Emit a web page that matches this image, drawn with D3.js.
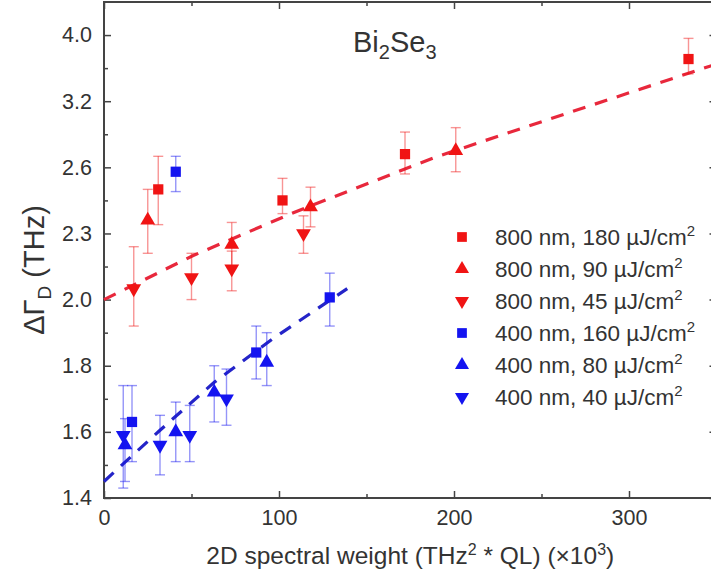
<!DOCTYPE html>
<html>
<head>
<meta charset="utf-8">
<script src="https://cdn.jsdelivr.net/npm/d3@7"></script>
<style>
  body { margin: 0; background: #fff; }
  svg { display: block; }
</style>
</head>
<body>
<div id="chart"></div>
<script>
// x ticks (x10^3) and y tick labels as printed on the axis
var xTicks = [0, 100, 200, 300];
var xMinor = [50, 150, 250, 350];
var yTicks = [1.4, 1.6, 1.8, 2.0, 2.3, 2.6, 3.2, 4.0];

// each row: [x, value, lower end of error bar, upper end of error bar]
var red180 = [[31, 2.50, 2.34, 2.70], [102, 2.45, 2.39, 2.55], [172, 2.72, 2.57, 2.92], [334, 3.71, 3.53, 3.96]];
var red90 = [[25, 2.36, 2.21, 2.50], [73, 2.25, 2.15, 2.35], [118, 2.42, 2.33, 2.51], [201, 2.75, 2.58, 2.96]];
var red45 = [[17, 2.05, 1.92, 2.24], [50, 2.10, 2.00, 2.21], [73, 2.14, 2.04, 2.22], [114, 2.30, 2.21, 2.38]];
var blue160 = [[41, 2.58, 2.49, 2.70], [16, 1.63, 1.51, 1.74], [87, 1.84, 1.76, 1.92], [129, 2.01, 1.92, 2.12]];
var blue80 = [[12, 1.56, 1.45, 1.64], [41, 1.60, 1.51, 1.69], [63, 1.72, 1.63, 1.80], [93, 1.81, 1.74, 1.90]];
var blue40 = [[11, 1.59, 1.43, 1.74], [32, 1.56, 1.47, 1.65], [49, 1.59, 1.51, 1.68], [70, 1.70, 1.62, 1.79]];

// dashed fit lines
var fitRed = [[0, 2.0], [51, 2.20], [110, 2.40], [189, 2.69], [255, 3.04], [350, 3.65]];
var fitBlue = [[0, 1.45], [32, 1.605], [63, 1.75], [96, 1.88], [139, 2.05]];

var seriesNames = ["800 nm, 180 ", "800 nm, 90 ", "800 nm, 45 ", "400 nm, 160 ", "400 nm, 80 ", "400 nm, 40 "];
var seriesData = [red180, red90, red45, blue160, blue80, blue40];
var seriesShape = ["square", "up", "down", "square", "up", "down"];
var seriesColor = ["#f01414", "#f01414", "#f01414", "#1414f0", "#1414f0", "#1414f0"];

var W = 711, H = 583;
var margin = { left: 104, top: 2, right: -5.5, bottom: 85 };
var width = W - margin.left - margin.right;
var height = H - margin.top - margin.bottom;
var font = "Arial, 'Liberation Sans', sans-serif";
var ink = "#333";

const svg = d3.select("#chart").append("svg")
  .attr("width", W).attr("height", H)
  .attr("font-family", font);

const g = svg.append("g").attr("transform", "translate(" + margin.left + "," + margin.top + ")");

var x = d3.scaleLinear().domain([0, 350]).range([0, width]);
// the y axis has evenly spaced labels, so map each label to an even step
var step = height / 7.5;
var y = d3.scaleLinear().domain(yTicks).range(yTicks.map((d, i) => height - i * step));
var yMinor = d3.pairs(yTicks).map(p => (p[0] + p[1]) / 2);

function styleAxis(sel) {
  sel.select(".domain").remove();
  sel.selectAll("line").attr("stroke", "#444").attr("stroke-width", 1.5);
  sel.selectAll("text").attr("fill", ink).attr("font-size", 21.5).attr("font-family", font);
}

// major ticks with labels, pointing inward
g.append("g").attr("transform", "translate(0," + height + ")")
  .call(d3.axisBottom(x).tickValues(xTicks).tickSize(-7).tickPadding(12).tickFormat(d3.format("d")))
  .call(styleAxis);
g.append("g")
  .call(d3.axisLeft(y).tickValues(yTicks).tickSize(-7).tickPadding(12).tickFormat(d3.format(".1f")))
  .call(styleAxis);
// minor ticks + opposite side ticks
g.append("g").attr("transform", "translate(0," + height + ")")
  .call(d3.axisBottom(x).tickValues(xMinor).tickSize(-4).tickFormat("")).call(styleAxis);
g.append("g").call(d3.axisLeft(y).tickValues(yMinor).tickSize(-4).tickFormat("")).call(styleAxis);
g.append("g").call(d3.axisTop(x).tickValues(xTicks).tickSize(-7).tickFormat("")).call(styleAxis);
g.append("g").call(d3.axisTop(x).tickValues(xMinor).tickSize(-4).tickFormat("")).call(styleAxis);
g.append("g").attr("transform", "translate(" + width + ",0)")
  .call(d3.axisRight(y).tickValues(yTicks).tickSize(-7).tickFormat("")).call(styleAxis);
g.append("g").attr("transform", "translate(" + width + ",0)")
  .call(d3.axisRight(y).tickValues(yMinor).tickSize(-4).tickFormat("")).call(styleAxis);

// frame
g.append("rect").attr("width", width).attr("height", height)
  .attr("fill", "none").attr("stroke", "#444").attr("stroke-width", 2);

// fit lines
var line = d3.line().x(d => x(d[0])).y(d => y(d[1]));
g.append("path").datum(fitRed).attr("d", line)
  .attr("fill", "none").attr("stroke", "#e8283c").attr("stroke-width", 3.2)
  .attr("stroke-dasharray", "13,10");
g.append("path").datum(fitBlue).attr("d", line)
  .attr("fill", "none").attr("stroke", "#2424c8").attr("stroke-width", 3.2)
  .attr("stroke-dasharray", "13,10");

function symbolPath(shape) {
  if (shape == "square") return d3.symbol(d3.symbolSquare, 105)();
  return d3.symbol(d3.symbolTriangle, 95)();
}
function symbolRotate(shape) {
  return shape == "down" ? " rotate(180)" : "";
}

// error bars and markers
seriesData.forEach(function (data, k) {
  var col = seriesColor[k];
  var eb = g.append("g").attr("stroke", col).attr("stroke-opacity", 0.45).attr("stroke-width", 1.4);
  data.forEach(function (d) {
    var cx = x(d[0]);
    eb.append("line").attr("x1", cx).attr("x2", cx).attr("y1", y(d[2])).attr("y2", y(d[3]));
    eb.append("line").attr("x1", cx - 5).attr("x2", cx + 5).attr("y1", y(d[2])).attr("y2", y(d[2]));
    eb.append("line").attr("x1", cx - 5).attr("x2", cx + 5).attr("y1", y(d[3])).attr("y2", y(d[3]));
  });
  g.append("g").selectAll("path").data(data).join("path")
    .attr("d", symbolPath(seriesShape[k]))
    .attr("transform", d => "translate(" + x(d[0]) + "," + y(d[1]) + ")" + symbolRotate(seriesShape[k]))
    .attr("fill", col);
});

// legend
var legend = svg.append("g").attr("transform", "translate(462,237)");
seriesNames.forEach(function (name, k) {
  var row = legend.append("g").attr("transform", "translate(0," + (k * 32) + ")");
  row.append("path").attr("d", symbolPath(seriesShape[k]))
    .attr("transform", "scale(0.95)" + symbolRotate(seriesShape[k]))
    .attr("fill", seriesColor[k]);
  var t = row.append("text").attr("x", 33).attr("y", 8)
    .attr("font-size", 22.5).attr("fill", ink);
  t.append("tspan").text(name);
  t.append("tspan").text("\u00b5J/cm");
  t.append("tspan").attr("font-size", 15).attr("dy", -9).text("2");
});

// compound label
var lab = svg.append("text").attr("x", 353).attr("y", 52)
  .attr("font-size", 29).attr("fill", ink);
lab.append("tspan").text("Bi");
lab.append("tspan").attr("font-size", 20).attr("dy", 7).text("2");
lab.append("tspan").attr("dy", -7).text("Se");
lab.append("tspan").attr("font-size", 20).attr("dy", 7).text("3");

// axis titles
var xt = svg.append("text").attr("x", margin.left + width / 2).attr("y", 564)
  .attr("text-anchor", "middle").attr("font-size", 24.5).attr("fill", ink);
xt.append("tspan").text("2D spectral weight (THz");
xt.append("tspan").attr("font-size", 16).attr("dy", -9).text("2");
xt.append("tspan").attr("dy", 9).text(" * QL) (\u00d710");
xt.append("tspan").attr("font-size", 16).attr("dy", -9).text("3");
xt.append("tspan").attr("dy", 9).text(")");

var yt = svg.append("text").attr("transform", "translate(44,270) rotate(-90)")
  .attr("text-anchor", "middle").attr("font-size", 29).attr("fill", ink);
yt.append("tspan").text("\u0394\u0393");
yt.append("tspan").attr("font-size", 19).attr("dy", 7).text("D");
yt.append("tspan").attr("dy", -7).text(" (THz)");
</script>
</body>
</html>
